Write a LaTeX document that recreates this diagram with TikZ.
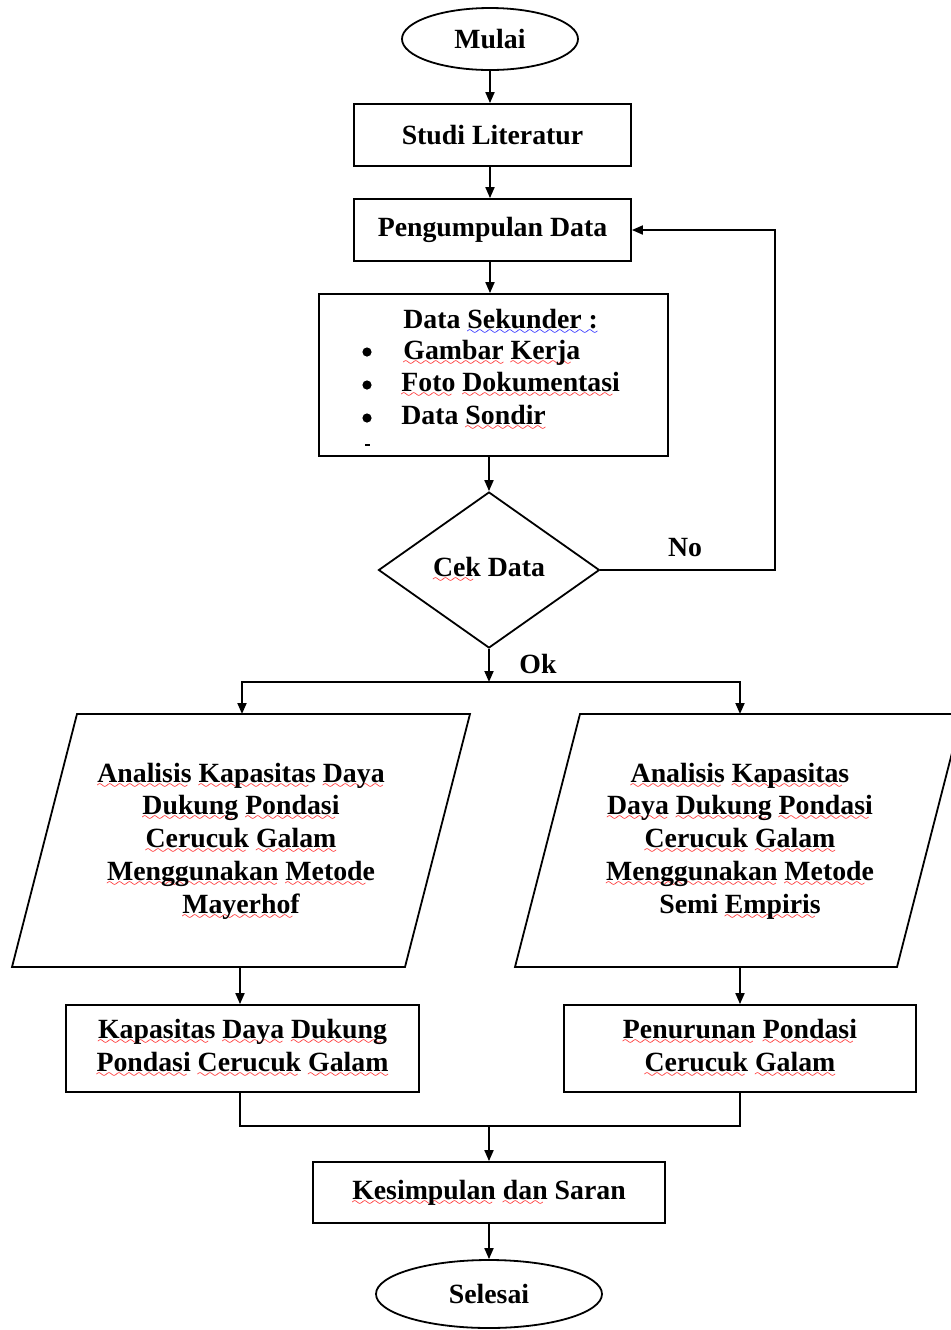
\documentclass[tikz,border=0pt]{standalone}
\usepackage{fontspec}
\setmainfont{Liberation Serif}
\usetikzlibrary{shapes.geometric,arrows.meta}
\font\wavefont=lasy6
\newcommand\wv[2]{\setbox0\hbox{#2}\rlap{\textcolor{#1}{\lower3pt\hbox to \wd0{\leaders\hbox{\wavefont\char58}\hfil}}}\box0\relax}
\newcommand\rw[1]{\wv{red}{#1}}
\newcommand\bw[1]{\wv{blue}{#1}}
\begin{document}
\begin{tikzpicture}[x=0.5pt,y=-0.5pt,
  every node/.style={font=\fontsize{13.9}{16.35}\selectfont\bfseries},
  box/.style={draw,line width=0.9pt,rectangle,inner sep=0pt,align=center},
  term/.style={draw,line width=0.9pt,ellipse,inner sep=0pt},
  arr/.style={line width=0.9pt,-{Triangle[length=5.5pt,width=4.5pt]}},
  ln/.style={line width=0.9pt},
  txt/.style={align=center,inner sep=0pt},
  lft/.style={anchor=base west,inner sep=0pt},
  bul/.style={circle,fill,inner sep=0pt,minimum size=4.6pt}]
\useasboundingbox (0,0) rectangle (950,1330);

% top chain
\node[term,minimum width=88pt,minimum height=31pt] (mulai) at (490,39) {Mulai};
\node[box,minimum width=138.5pt,minimum height=31pt] (studi) at (492.5,135) {Studi Literatur};
\node[box,minimum width=138.5pt,minimum height=31pt] (kumpul) at (492.5,230) {Pengumpulan Data};
\node[box,minimum width=174.5pt,minimum height=81pt] (sekunder) at (493.5,375) {};

\node[lft] (dshead) at (403,328) {Data \bw{Sekunder :}};
\node[bul] (b1) at (367,352) {};
\node[bul] (b2) at (367,385) {};
\node[bul] (b3) at (367,418) {};
\node[fill,inner sep=0pt,minimum width=2.5pt,minimum height=1pt] (dash) at (367,445) {};
\node[lft] (it1) at (403,359) {\rw{Gambar} \rw{Kerja}};
\node[lft] (it2) at (401,391) {\rw{Foto} \rw{Dokumentasi}};
\node[lft] (it3) at (401,424) {Data \rw{Sondir}};

\node[diamond,draw,line width=0.9pt,minimum width=110.5pt,minimum height=78pt,inner sep=0pt] (cek) at (489,570) {\rw{Cek} Data};

\draw[arr] (mulai.south) -- (mulai.south |- studi.north);
\draw[arr] (mulai.south |- studi.south) -- (mulai.south |- kumpul.north);
\draw[arr] (mulai.south |- kumpul.south) -- (mulai.south |- sekunder.north);
\draw[arr] (cek.north |- sekunder.south) -- (cek.north);

% No loop
\coordinate (loop) at (775,570);
\draw[arr] (cek.east) -- (loop) |- (kumpul.east);
\node (nolbl) at (685,548) {No};

% Ok split
\coordinate (split) at (489,682);
\draw[arr] (cek.south) -- (split);
\node (oklbl) at (538,664) {Ok};
\coordinate (pltop) at (242,714);
\coordinate (prtop) at (740,714);
\draw[arr] (split) -| (pltop);
\draw[arr] (split) -| (prtop);

% parallelograms
\draw[ln] (77,714) -- (470,714) -- (405,967) -- (12,967) -- cycle;
\draw[ln] (580,714) -- (962,714) -- (897,967) -- (515,967) -- cycle;
\node[txt] (pltext) at (241,841) {\rw{Analisis} \rw{Kapasitas} \rw{Daya}\\ \rw{Dukung} \rw{Pondasi}\\ \rw{Cerucuk} \rw{Galam}\\ \rw{Menggunakan} \rw{Metode}\\ \rw{Mayerhof}};
\node[txt] (prtext) at (740,841) {\rw{Analisis} \rw{Kapasitas}\\ \rw{Daya} \rw{Dukung} \rw{Pondasi}\\ \rw{Cerucuk} \rw{Galam}\\ \rw{Menggunakan} \rw{Metode}\\ Semi \rw{Empiris}};
\coordinate (plbot) at (240,967);
\coordinate (prbot) at (740,967);

% result boxes
\node[box,minimum width=176.5pt,minimum height=43.5pt] (kap) at (242.5,1048.5) {\rw{Kapasitas} \rw{Daya} \rw{Dukung}\\ \rw{Pondasi} \rw{Cerucuk} \rw{Galam}};
\node[box,minimum width=176pt,minimum height=43.5pt] (turun) at (740,1048.5) {\rw{Penurunan} \rw{Pondasi}\\ \rw{Cerucuk} \rw{Galam}};
\draw[arr] (plbot) -- (plbot |- kap.north);
\draw[arr] (prbot) -- (prbot |- turun.north);

% merge
\coordinate (merge) at (489,1126);
\node[box,minimum width=176pt,minimum height=30.5pt] (kes) at (489,1192.5) {\rw{Kesimpulan} \rw{dan} Saran};
\draw[ln] (plbot |- kap.south) |- (merge);
\draw[ln] (prbot |- turun.south) |- (merge);
\draw[arr] (merge) -- (merge |- kes.north);

\node[term,minimum width=113pt,minimum height=34pt] (selesai) at (489,1294) {Selesai};
\draw[arr] (kes.south) -- (selesai.north);
\end{tikzpicture}
\end{document}
